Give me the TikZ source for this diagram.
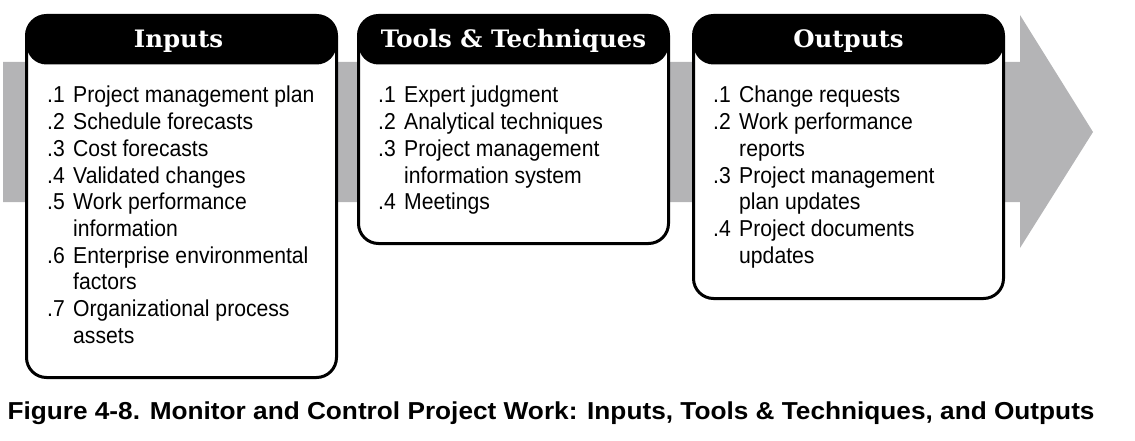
\documentclass[tikz,border=0pt]{standalone}
\usepackage{fontspec}
\setmainfont{Liberation Sans}
\newfontfamily\itemfont[FakeStretch=0.92]{Liberation Sans}
\newfontfamily\titlefont[FakeStretch=1.02]{DejaVu Serif}
\newfontfamily\capfont[FakeStretch=1.07]{Liberation Sans}
\usetikzlibrary{positioning,calc}
\definecolor{bandgray}{RGB}{180,180,182}
\tikzset{
    band/.style = {
        fill = bandgray,
        },
    PhaseBox/.style = {
        draw, fill = white,
        line width = 3pt,
        rounded corners = 20pt,
        minimum width = 310pt,
        anchor = north west,
        path picture = {
            \fill[black] (path picture bounding box.north west)
                rectangle ([yshift=-49pt]path picture bounding box.north east);
            },
        },
    head/.style = {
        font = \titlefont\bfseries\fontsize{24}{28}\selectfont,
        text = white,
        anchor = base,
        },
    item list/.style = {
        font = \itemfont\fontsize{23}{26.7}\selectfont,
        anchor = base west,
        inner sep = 0pt,
        },
}

\begin{document}
\begin{tikzpicture}[x=1pt, y=-1pt]
    \useasboundingbox (0,0) rectangle (1135,441);

    % big arrow
    \fill[band] (3,62) -- (1020,62) -- (1020,15) -- (1093,132)
        -- (1020,248) -- (1020,202) -- (3,202) -- cycle;

    % Inputs
    \node [PhaseBox, minimum height=362pt] (inputs) at (25,14) {};
    \node [head] (inputs title) at ([xshift=-3pt, yshift=-34pt]inputs.north) {Inputs};
    \node [item list] (inputs list) at ([xshift=22pt, yshift=-89pt]inputs.north west) {%
        \begin{tabular}[t]{@{}p{26pt}@{}l@{}}
        .1 & Project management plan\\
        .2 & Schedule forecasts\\
        .3 & Cost forecasts\\
        .4 & Validated changes\\
        .5 & Work performance\\
           & information\\
        .6 & Enterprise environmental\\
           & factors\\
        .7 & Organizational process\\
           & assets
        \end{tabular}};

    % Tools & Techniques
    \node [PhaseBox, minimum height=228pt] (tools) at (357,14) {};
    \node [head] (tools title) at ([yshift=-34pt]tools.north) {Tools \& Techniques};
    \node [item list] (tools list) at ([xshift=21pt, yshift=-89pt]tools.north west) {%
        \begin{tabular}[t]{@{}p{26pt}@{}l@{}}
        .1 & Expert judgment\\
        .2 & Analytical techniques\\
        .3 & Project management\\
           & information system\\
        .4 & Meetings
        \end{tabular}};

    % Outputs
    \node [PhaseBox, minimum height=283pt] (outputs) at (692,14) {};
    \node [head] (outputs title) at ([yshift=-34pt]outputs.north) {Outputs};
    \node [item list] (outputs list) at ([xshift=21pt, yshift=-89pt]outputs.north west) {%
        \begin{tabular}[t]{@{}p{26pt}@{}l@{}}
        .1 & Change requests\\
        .2 & Work performance\\
           & reports\\
        .3 & Project management\\
           & plan updates\\
        .4 & Project documents\\
           & updates
        \end{tabular}};

    % caption
    \node [anchor=base, font=\capfont\bfseries\fontsize{24.5}{28}\selectfont] (caption) at (551,419)
        {Figure 4-8. Monitor and Control Project Work: Inputs, Tools \& Techniques, and Outputs};
\end{tikzpicture}
\end{document}
